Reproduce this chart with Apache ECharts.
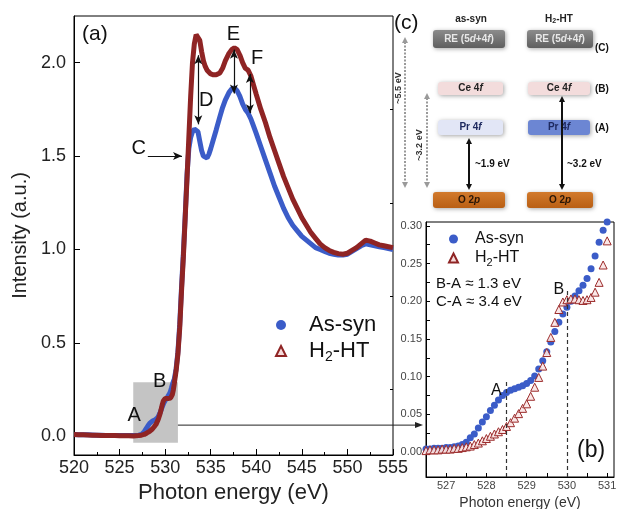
<!DOCTYPE html>
<html>
<head>
<meta charset="utf-8">
<script src="https://cdn.jsdelivr.net/npm/echarts@6/dist/echarts.min.js"></script>
<style>
  html, body { margin: 0; padding: 0; background: #fff; }
  #chart { width: 622px; height: 509px; }
</style>
</head>
<body>
<div id="chart"></div>
<script>
// O K-edge XAS spectra: photon energy (eV) and normalised intensity
const energy = [
  520, 520.5, 521, 521.5, 522, 522.5, 523, 523.5, 524, 524.5, 525, 525.5, 526,
  526.5, 526.6, 526.7, 526.8, 526.9, 527.0, 527.1, 527.2, 527.3, 527.4, 527.5, 527.6, 527.7, 527.8, 527.9,
  528.0, 528.1, 528.2, 528.3, 528.4, 528.5, 528.6, 528.7, 528.8, 528.9,
  529.0, 529.1, 529.2, 529.3, 529.4, 529.5, 529.6, 529.7, 529.8, 529.9,
  530.0, 530.1, 530.2, 530.3, 530.4, 530.5, 530.6, 530.7, 530.8, 530.9, 531.0,
  531.2, 531.4, 531.6, 531.8, 532.0, 532.2, 532.4, 532.6, 532.8, 533.0, 533.2, 533.4, 533.6, 533.8,
  534.0, 534.2, 534.4, 534.6, 534.8, 535.0, 535.3, 535.6, 536.0, 536.3, 536.6, 537.0, 537.3, 537.6, 537.9,
  538.2, 538.5, 538.8, 539.1, 539.4, 539.7, 540.0, 540.5, 541.0, 541.5, 542.0, 542.5, 543.0, 543.5,
  544.0, 544.5, 545.0, 545.5, 546.0, 546.5, 547.0, 547.5, 548.0, 548.5, 549.0, 549.5, 550.0, 550.5,
  551.0, 551.5, 552.0, 552.5, 553.0, 553.5, 554.0, 554.5, 555.0
];
const asSyn = [
  0.010, 0.009, 0.008, 0.008, 0.007, 0.006, 0.006, 0.005, 0.005, 0.005, 0.005, 0.004, 0.004,
  0.004, 0.004, 0.005, 0.005, 0.005, 0.006, 0.006, 0.007, 0.008, 0.010, 0.013, 0.019, 0.024, 0.032, 0.040,
  0.047, 0.055, 0.062, 0.069, 0.075, 0.079, 0.082, 0.084, 0.086, 0.088,
  0.091, 0.095, 0.101, 0.110, 0.121, 0.133, 0.146, 0.160, 0.172, 0.183,
  0.192, 0.200, 0.207, 0.214, 0.221, 0.230, 0.243, 0.260, 0.278, 0.294, 0.305,
  0.36, 0.45, 0.60, 0.80, 0.98, 1.18, 1.40, 1.54, 1.60, 1.63, 1.645, 1.655, 1.63, 1.58,
  1.53, 1.50, 1.49, 1.49, 1.51, 1.54, 1.59, 1.64, 1.71, 1.76, 1.80, 1.84, 1.86, 1.865, 1.85,
  1.82, 1.78, 1.75, 1.73, 1.70, 1.66, 1.62, 1.55, 1.48, 1.41, 1.34, 1.28, 1.22, 1.17,
  1.13, 1.10, 1.07, 1.05, 1.03, 1.01, 1.00, 0.99, 0.98, 0.975, 0.97, 0.97, 0.975, 0.99,
  1.005, 1.02, 1.03, 1.025, 1.02, 1.015, 1.01, 1.005, 1.00
];
const h2ht = [
  0.010, 0.009, 0.008, 0.007, 0.006, 0.006, 0.005, 0.005, 0.004, 0.004, 0.003, 0.003, 0.003,
  0.002, 0.003, 0.003, 0.003, 0.004, 0.004, 0.004, 0.005, 0.005, 0.006, 0.007, 0.008, 0.010, 0.012, 0.015,
  0.018, 0.021, 0.024, 0.027, 0.030, 0.034, 0.039, 0.045, 0.051, 0.058,
  0.064, 0.074, 0.086, 0.099, 0.114, 0.132, 0.152, 0.172, 0.189, 0.199,
  0.202, 0.203, 0.203, 0.202, 0.201, 0.202, 0.205, 0.212, 0.225, 0.248, 0.280,
  0.35, 0.44, 0.58, 0.78, 0.96, 1.17, 1.38, 1.60, 1.82, 2.00, 2.10, 2.15, 2.155, 2.12,
  2.06, 2.01, 1.98, 1.96, 1.95, 1.94, 1.935, 1.935, 1.945, 1.97, 2.01, 2.05, 2.07, 2.08, 2.07,
  2.04, 2.00, 1.97, 1.96, 1.93, 1.88, 1.83, 1.75, 1.68, 1.60, 1.53, 1.46, 1.39, 1.33,
  1.27, 1.22, 1.17, 1.13, 1.09, 1.06, 1.03, 1.01, 0.995, 0.985, 0.978, 0.975, 0.98, 0.995,
  1.01, 1.03, 1.05, 1.045, 1.035, 1.025, 1.02, 1.015, 1.01
];

// axis tick values
const mainYTicks = [0, 0.5, 1.0, 1.5, 2.0];
const mainYMinor = [0.25, 0.75, 1.25, 1.75];
const insetXLabels = [527, 528, 529, 530, 531];
const insetXTicks = [527, 527.5, 528, 528.5, 529, 529.5, 530, 530.5, 531];
const insetYLabels = [0, 0.05, 0.10, 0.15, 0.20, 0.25, 0.30];
const insetYTicks = [0, 0.025, 0.05, 0.075, 0.10, 0.125, 0.15, 0.175, 0.20, 0.225, 0.25, 0.275, 0.30];

// zoomed window of the pre-edge
const zoomX = [526.5, 531.17];
const zoomY = [-0.033, 0.305];

const FONT = '"Liberation Sans", Arial, Helvetica, sans-serif';
const BLUE = '#3b5cc8';
const RED = '#8f2424';
const RED_FILL = '#f5dada';

const pairs = (xs, ys) => xs.map((x, i) => [x, ys[i]]);
const inZoom = pts => pts.filter(p => p[0] >= zoomX[0] && p[0] <= zoomX[1] && p[1] <= zoomY[1] + 0.002);

const legendFormatter = name =>
  name === 'H2-HT' ? '{n|H}{s|2}{n|-HT}' : '{n|' + name + '}';

const chart = echarts.init(document.getElementById('chart'), null, { renderer: 'canvas' });

const option = {
  animation: false,
  textStyle: { fontFamily: FONT },
  grid: [
    { left: 74, top: 16, width: 319, height: 439, show: true, borderColor: '#000', borderWidth: 1, outerBoundsMode: 'none' },
    { left: 426, top: 222, width: 188, height: 255, show: true, borderColor: '#000', borderWidth: 1, outerBoundsMode: 'none' }
  ],
  xAxis: [
    {
      gridIndex: 0, type: 'value', min: 520, max: 555, interval: 5,
      axisLine: { onZero: false, lineStyle: { color: '#000', width: 1 } },
      axisTick: { inside: true, length: 6, lineStyle: { color: '#000' } },
      minorTick: { show: true, splitNumber: 2, length: 3, lineStyle: { color: '#000' } },
      splitLine: { show: false },
      axisLabel: { fontSize: 18, color: '#222', margin: 4 },
      name: 'Photon energy (eV)', nameLocation: 'middle', nameGap: 19,
      nameTextStyle: { fontSize: 22, color: '#222' }
    },
    {
      gridIndex: 1, type: 'value', min: zoomX[0], max: zoomX[1],
      axisLine: { onZero: false, lineStyle: { color: '#000', width: 1 } },
      axisTick: { inside: true, length: 4, customValues: insetXTicks, lineStyle: { color: '#000' } },
      splitLine: { show: false },
      axisLabel: { customValues: insetXLabels, fontSize: 11, color: '#444', margin: 3 },
      name: 'Photon energy (eV)', nameLocation: 'middle', nameGap: 14,
      nameTextStyle: { fontSize: 14, color: '#333' }
    }
  ],
  yAxis: [
    {
      gridIndex: 0, type: 'value', min: -0.1, max: 2.25,
      axisLine: { show: true, onZero: false, lineStyle: { color: '#000', width: 1 } },
      axisTick: { show: true, inside: true, length: 6, customValues: mainYTicks, lineStyle: { color: '#000' } },
      axisLabel: { customValues: mainYTicks, formatter: v => v.toFixed(1), fontSize: 18, color: '#222', margin: 8 },
      splitLine: { show: false },
      name: 'Intensity (a.u.)', nameLocation: 'middle', nameGap: 35,
      nameTextStyle: { fontSize: 20, color: '#222' }
    },
    {
      gridIndex: 0, type: 'value', min: -0.1, max: 2.25,
      axisLine: { show: false, onZero: false },
      axisTick: { show: true, inside: true, length: 3, customValues: mainYMinor, lineStyle: { color: '#000' } },
      axisLabel: { show: false },
      splitLine: { show: false }
    },
    {
      gridIndex: 1, type: 'value', min: zoomY[0], max: zoomY[1],
      axisLine: { show: true, onZero: false, lineStyle: { color: '#000', width: 1 } },
      axisTick: { show: true, inside: true, length: 4, customValues: insetYTicks, lineStyle: { color: '#000' } },
      axisLabel: { customValues: insetYLabels, formatter: v => v.toFixed(2), fontSize: 11, color: '#444', margin: 4 },
      splitLine: { show: false }
    }
  ],
  legend: [
    {
      left: 270, top: 309, orient: 'vertical', itemGap: 4, itemWidth: 10, itemHeight: 10,
      selectedMode: false,
      data: [{ name: 'As-syn', icon: 'circle' }, { name: 'H2-HT', icon: 'triangle' }],
      formatter: legendFormatter,
      textStyle: {
        padding: [0, 0, 0, 18],
        rich: {
          n: { fontSize: 22, color: '#111', fontFamily: FONT },
          s: { fontSize: 14, color: '#111', fontFamily: FONT, padding: [12, 0, 0, 0] }
        }
      }
    },
    {
      left: 443, top: 226, orient: 'vertical', itemGap: 3, itemWidth: 9, itemHeight: 9,
      selectedMode: false,
      data: [{ name: 'As-syn', icon: 'circle' }, { name: 'H2-HT', icon: 'triangle' }],
      formatter: legendFormatter,
      textStyle: {
        padding: [0, 0, 0, 12],
        rich: {
          n: { fontSize: 16, color: '#111', fontFamily: FONT },
          s: { fontSize: 11, color: '#111', fontFamily: FONT, padding: [9, 0, 0, 0] }
        }
      }
    }
  ],
  series: [
    {
      name: 'As-syn', type: 'line', xAxisIndex: 0, yAxisIndex: 0, z: 2,
      data: pairs(energy, asSyn),
      symbol: 'circle', symbolSize: 5, showSymbol: false,
      lineStyle: { color: BLUE, width: 5 },
      itemStyle: { color: BLUE },
      markArea: {
        silent: true,
        itemStyle: { color: '#c4c4c4' },
        data: [[{ coord: [zoomX[0], -0.035] }, { coord: [531.4, 0.29] }]]
      },
      markLine: {
        silent: true, symbol: ['arrow', 'arrow'], symbolSize: [6, 9],
        lineStyle: { color: '#111', width: 1.2, type: 'solid' },
        label: { show: false },
        data: [
          [{ coord: [528.1, 1.50], symbol: 'none' }, { coord: [531.85, 1.50], symbol: 'arrow' }],
          [{ coord: [533.64, 2.04] }, { coord: [533.64, 1.67] }],
          [{ coord: [537.55, 2.07] }, { coord: [537.55, 1.835] }],
          [{ coord: [539.3, 1.94] }, { coord: [539.3, 1.73] }]
        ]
      },
      markPoint: {
        silent: true, symbol: 'circle', symbolSize: 1,
        itemStyle: { color: 'rgba(0,0,0,0)' },
        label: { show: true, position: 'inside', formatter: '{b}', fontSize: 20, color: '#111', fontFamily: FONT },
        data: [
          { name: 'A', coord: [526.6, 0.11] },
          { name: 'B', coord: [529.4, 0.295] },
          { name: 'C', coord: [527.1, 1.54] },
          { name: 'D', coord: [534.5, 1.80] },
          { name: 'E', coord: [537.5, 2.15] },
          { name: 'F', coord: [540.1, 2.02] }
        ]
      }
    },
    {
      name: 'H2-HT', type: 'line', xAxisIndex: 0, yAxisIndex: 0, z: 3,
      data: pairs(energy, h2ht),
      symbol: 'triangle', symbolSize: 6, showSymbol: false,
      lineStyle: { color: RED, width: 5 },
      itemStyle: { color: RED_FILL, borderColor: RED, borderWidth: 1 }
    },
    {
      name: 'As-syn', type: 'scatter', xAxisIndex: 1, yAxisIndex: 2, z: 2,
      data: inZoom(pairs(energy, asSyn)),
      symbol: 'circle', symbolSize: 7,
      itemStyle: { color: BLUE, opacity: 1 },
      markLine: {
        silent: true, symbol: ['none', 'none'],
        lineStyle: { color: '#333', width: 1.2, type: [4, 3] },
        label: { show: false },
        data: [
          [{ coord: [528.5, zoomY[0]] }, { coord: [528.5, 0.095] }],
          [{ coord: [530.0, zoomY[0]] }, { coord: [530.0, 0.214] }]
        ]
      },
      markPoint: {
        silent: true, symbol: 'circle', symbolSize: 1,
        itemStyle: { color: 'rgba(0,0,0,0)' },
        label: { show: true, position: 'inside', formatter: '{b}', fontSize: 16, color: '#111', fontFamily: FONT },
        data: [
          { name: 'A', coord: [528.25, 0.081] },
          { name: 'B', coord: [529.8, 0.215] }
        ]
      }
    },
    {
      name: 'H2-HT', type: 'scatter', xAxisIndex: 1, yAxisIndex: 2, z: 3,
      data: inZoom(pairs(energy, h2ht)),
      symbol: 'triangle', symbolSize: 8,
      itemStyle: { color: 'rgba(250,228,228,0.9)', borderColor: '#9b2b2b', borderWidth: 1, opacity: 1 }
    }
  ]
};

chart.setOption(option);

// ---- extra drawing: panel letters, inset notes, level diagram ----
const grad = (a, b) => new echarts.graphic.LinearGradient(0, 0, 0, 1, [
  { offset: 0, color: a }, { offset: 1, color: b }
]);

const g = [];
const text = (x, y, str, size, extra) => g.push(Object.assign({
  type: 'text', x: x, y: y, z: 50,
  style: Object.assign({ text: str, fill: '#111', font: size + 'px ' + FONT }, extra || {})
}));

// panel letters
text(82, 24, '(a)', 21);
text(577, 439, '(b)', 23);
text(394, 13, '(c)', 21);

// inset notes
text(436, 276, 'B-A \u2248 1.3 eV', 15);
text(436, 294, 'C-A \u2248 3.4 eV', 15);

// level boxes
const levelRich = color => ({
  r: { fontSize: 10, fontWeight: 'bold', fill: color, fontFamily: FONT },
  i: { fontSize: 10, fontWeight: 'bold', fontStyle: 'italic', fill: color, fontFamily: FONT }
});
function level(x, y, w, h, fill, label, color) {
  g.push({
    type: 'rect', z: 40,
    shape: { x: x, y: y, width: w, height: h, r: 3 },
    style: { fill: fill, shadowBlur: 4, shadowColor: 'rgba(0,0,0,0.35)', shadowOffsetX: 1, shadowOffsetY: 1 }
  });
  g.push({
    type: 'text', z: 41, x: x + w / 2, y: y + h / 2,
    style: { text: label, align: 'center', verticalAlign: 'middle', rich: levelRich(color) }
  });
}
level(433, 30, 72, 18, grad('#8c8c8c', '#5f5f5f'), '{r|RE (5}{i|d}{r|+4}{i|f}{r|)}', '#e8e8e8');
level(527, 30, 66, 18, grad('#8c8c8c', '#5f5f5f'), '{r|RE (5}{i|d}{r|+4}{i|f}{r|)}', '#e8e8e8');
level(438, 82, 65, 13, '#f3dcdc', '{r|Ce 4}{i|f}', '#222');
level(528, 82, 62, 13, '#f3dcdc', '{r|Ce 4}{i|f}', '#222');
level(438, 120, 65, 15, '#e2e6f6', '{r|Pr 4}{i|f}', '#1e2a60');
level(528, 120, 62, 15, '#6c86d3', '{r|Pr 4}{i|f}', '#1e2a60');
level(433, 192, 72, 16, grad('#d27a2c', '#b95f14'), '{r|O 2}{i|p}', '#2a1606');
level(527, 192, 66, 16, grad('#d27a2c', '#b95f14'), '{r|O 2}{i|p}', '#2a1606');

// column headers and level tags
g.push({
  type: 'text', z: 41, x: 471, y: 19,
  style: { text: 'as-syn', align: 'center', verticalAlign: 'middle', fill: '#222', font: 'bold 10px ' + FONT }
});
g.push({
  type: 'text', z: 41, x: 559, y: 19,
  style: {
    text: '{h|H}{s|2}{h|-HT}', align: 'center', verticalAlign: 'middle',
    rich: {
      h: { fontSize: 10, fontWeight: 'bold', fill: '#222', fontFamily: FONT },
      s: { fontSize: 7, fontWeight: 'bold', fill: '#222', fontFamily: FONT, padding: [5, 0, 0, 0] }
    }
  }
});
text(595, 43, '(C)', 10, { font: 'bold 10px ' + FONT });
text(595, 84, '(B)', 10, { font: 'bold 10px ' + FONT });
text(595, 123, '(A)', 10, { font: 'bold 10px ' + FONT });

// vertical double arrows
function vArrow(x, y1, y2, color, width, dash, head) {
  g.push({
    type: 'line', z: 42,
    shape: { x1: x, y1: y1 + head, x2: x, y2: y2 - head },
    style: { stroke: color, lineWidth: width, lineDash: dash || null }
  });
  g.push({
    type: 'polygon', z: 42,
    shape: { points: [[x, y1], [x - head * 0.6, y1 + head * 1.2], [x + head * 0.6, y1 + head * 1.2]] },
    style: { fill: color }
  });
  g.push({
    type: 'polygon', z: 42,
    shape: { points: [[x, y2], [x - head * 0.6, y2 - head * 1.2], [x + head * 0.6, y2 - head * 1.2]] },
    style: { fill: color }
  });
}
vArrow(469, 138, 190, '#111', 2, null, 5);
vArrow(562, 96, 190, '#111', 2, null, 5);
vArrow(405, 37, 188, '#9a9a9a', 2, [2, 1.5], 5);
vArrow(427, 93, 188, '#9a9a9a', 2, [2, 1.5], 5);

text(475, 159, '~1.9 eV', 10, { font: 'bold 10px ' + FONT });
text(567, 159, '~3.2 eV', 10, { font: 'bold 10px ' + FONT });
g.push({
  type: 'text', z: 41, x: 399, y: 88, rotation: Math.PI / 2,
  style: { text: '~5.5 eV', align: 'center', verticalAlign: 'middle', fill: '#333', font: 'bold 9px ' + FONT }
});
g.push({
  type: 'text', z: 41, x: 420, y: 145, rotation: Math.PI / 2,
  style: { text: '~3.2 eV', align: 'center', verticalAlign: 'middle', fill: '#333', font: 'bold 9px ' + FONT }
});

// pointer from the shaded pre-edge window to the zoomed panel
const start = chart.convertToPixel({ xAxisIndex: 0, yAxisIndex: 0 }, [531.4, 0.06]);
const insetLeft = chart.convertToPixel({ xAxisIndex: 1, yAxisIndex: 2 }, [zoomX[0], 0])[0];
const endX = insetLeft - 3;
g.push({
  type: 'line', z: 45,
  shape: { x1: start[0], y1: start[1], x2: endX - 6, y2: start[1] },
  style: { stroke: '#222', lineWidth: 1 }
});
g.push({
  type: 'polygon', z: 45,
  shape: { points: [[endX, start[1]], [endX - 8, start[1] - 3], [endX - 8, start[1] + 3]] },
  style: { fill: '#222' }
});

chart.setOption({ graphic: g });
</script>
</body>
</html>
